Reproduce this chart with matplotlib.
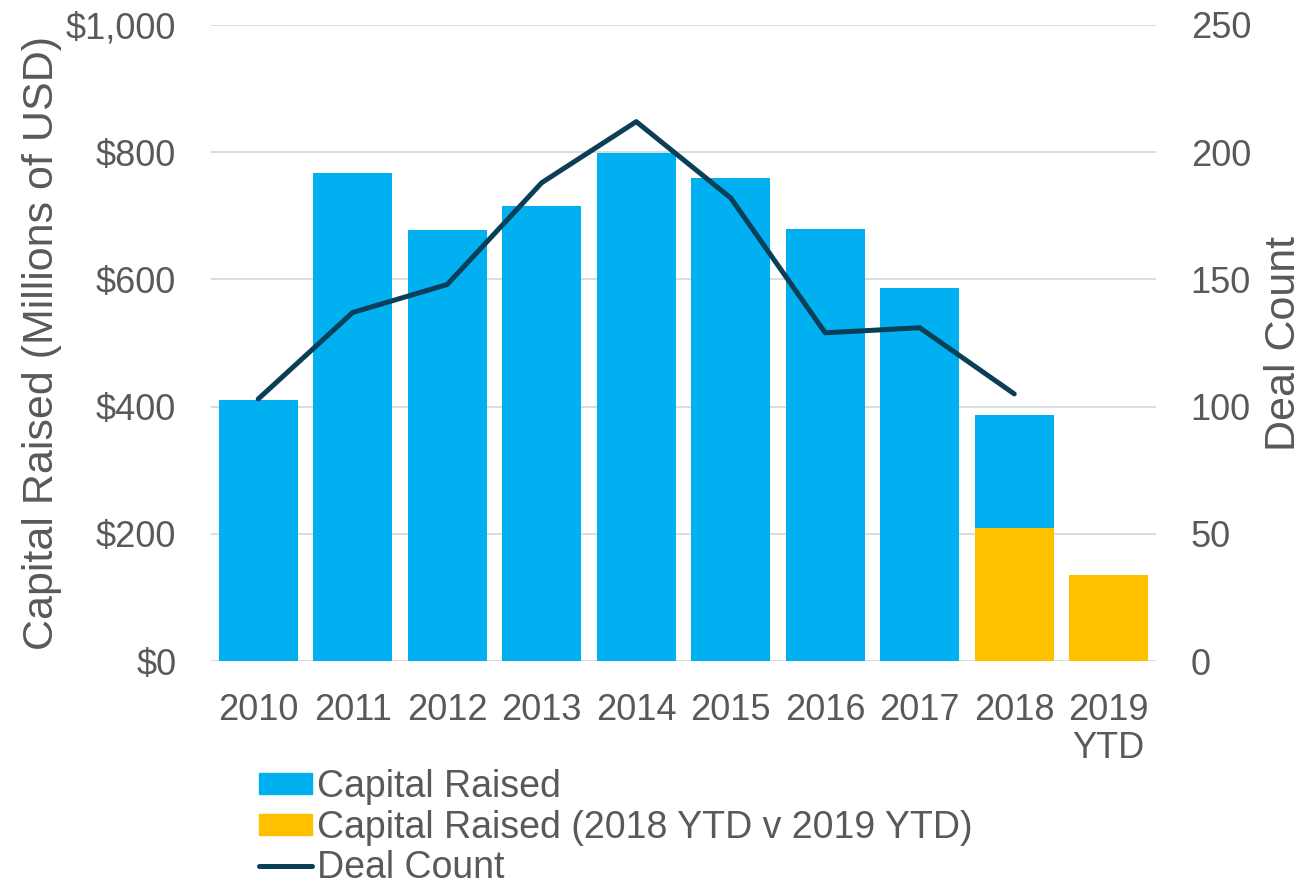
import numpy as np
import matplotlib
matplotlib.use("Agg")
import matplotlib.pyplot as plt
from matplotlib.patches import Patch
from matplotlib.lines import Line2D

plt.rcParams.update({
    "font.family": ["Liberation Sans", "DejaVu Sans"],
    "font.size": 26,
    "text.color": "#595959",
    "axes.labelcolor": "#595959",
    "xtick.color": "#595959",
    "ytick.color": "#595959",
})

# data
years = ["2010", "2011", "2012", "2013", "2014", "2015", "2016", "2017", "2018", "2019\nYTD"]
capital = [411, 768, 677, 715, 798, 759, 680, 586, 387, 0]
capital_ytd = [0, 0, 0, 0, 0, 0, 0, 0, 209, 135]
deal_count = [103, 137, 148, 188, 212, 182, 129, 131, 105]

BLUE = "#00B0F0"
AMBER = "#FFC000"
NAVY = "#0B3F58"
GRID = "#D9D9D9"

fig = plt.figure(figsize=(13.04, 8.82), dpi=100)
ax = fig.add_axes([0.1618, 0.2505, 0.7247, 0.7212])
ax2 = ax.twinx()

x = np.arange(len(years))
ax.bar(x, capital, width=0.836, color=BLUE, zorder=2)
ax.bar(x, capital_ytd, width=0.836, color=AMBER, zorder=3)
ax2.plot(x[:len(deal_count)], deal_count, color=NAVY, lw=3.6,
         solid_capstyle="round", zorder=4)

ax.set_xlim(-0.5, len(years) - 0.5)
ax.set_ylim(0, 1000)
ax.set_yticks(np.arange(0, 1001, 200))
ax.set_yticklabels([f"${v:,}" for v in range(0, 1001, 200)])
ax2.set_ylim(0, 250)
ax2.set_yticks(np.arange(0, 251, 50))

ax.set_xticks(x)
ax.set_xticklabels(years, linespacing=1.1)
ax.yaxis.grid(True, color=GRID, lw=1.3, zorder=0)
ax.set_axisbelow(True)

for a in (ax, ax2):
    for s in a.spines.values():
        s.set_visible(False)
    a.tick_params(length=0)
ax.tick_params(axis="y", pad=25)
ax.tick_params(axis="x", pad=23)
ax2.tick_params(axis="y", pad=25)

ax.set_ylabel("Capital Raised (Millions of USD)", fontsize=31)
ax.yaxis.set_label_coords(-0.158, 0.5)
ax2.set_ylabel("Deal Count", fontsize=31)
ax2.yaxis.set_label_coords(1.114, 0.5)

handles = [Patch(color=BLUE), Patch(color=AMBER),
           Line2D([0], [0], color=NAVY, lw=3.6, solid_capstyle="round")]
labels = ["Capital Raised", "Capital Raised (2018 YTD v 2019 YTD)", "Deal Count"]
fig.legend(handles, labels, loc="upper left",
           bbox_to_anchor=(259 / 1304, 1 - 769 / 882),
           bbox_transform=fig.transFigure, frameon=False, fontsize=27,
           handlelength=1.4, handleheight=0.5, handletextpad=0.15,
           labelspacing=0.12, borderpad=0, borderaxespad=0)

fig.savefig("out.png", dpi=100)
